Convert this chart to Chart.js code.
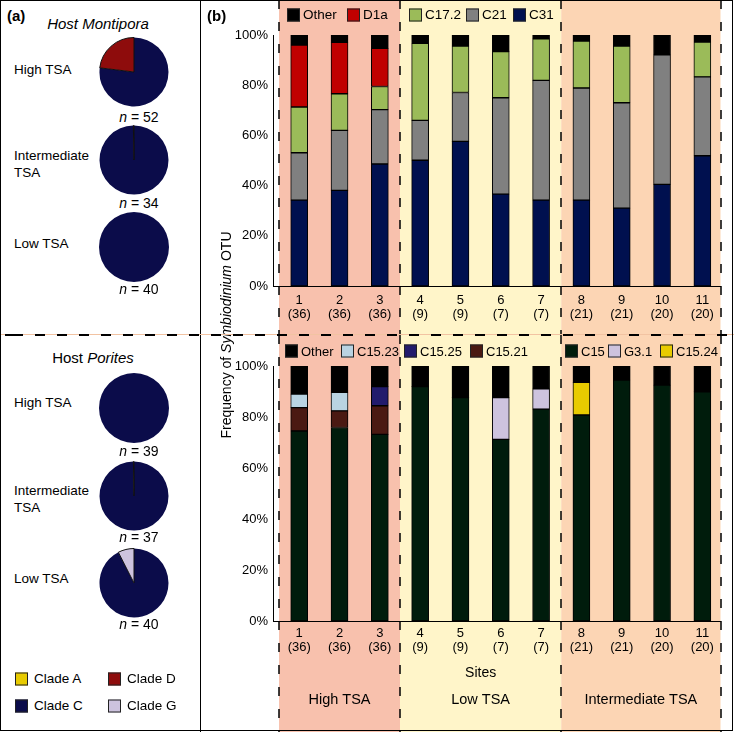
<!DOCTYPE html>
<html>
<head>
<meta charset="utf-8">
<script src="https://cdn.jsdelivr.net/npm/chart.js@4.4.1/dist/chart.umd.min.js"></script>
<style>
html,body{margin:0;padding:0;background:#fff;}
body{position:relative;width:734px;height:732px;overflow:hidden;font-family:"Liberation Sans",Arial,Helvetica,sans-serif;color:#000;}
.t{position:absolute;white-space:nowrap;line-height:1;z-index:5;}
.c{transform:translate(-50%,-50%);}
.l{transform:translateY(-50%);}
canvas{position:absolute;display:block;}
.box{position:absolute;width:11px;height:11px;border:1px solid #222;transform:translateY(-50%);z-index:5;}
#frame{position:absolute;left:0;top:0;width:731px;height:729px;border:1px solid #000;z-index:20;pointer-events:none;}
#sep{position:absolute;left:200px;top:0;width:1px;height:732px;background:#000;z-index:10;}
#hdash{position:absolute;left:0;top:334px;width:734px;height:2px;z-index:12;
  background:repeating-linear-gradient(to right,#000 0 10px,transparent 10px 22px);background-position:13px 0;}
#hline{position:absolute;left:0;top:334px;width:734px;height:1px;background:#f2c3a2;z-index:11;}
</style>
</head>
<body>
<div id="frame"></div>
<div id="sep"></div>
<div id="hline"></div>
<div id="hdash"></div>

<canvas id="pie0" width="70" height="70"></canvas>
<canvas id="pie1" width="70" height="70"></canvas>
<canvas id="pie2" width="70" height="70"></canvas>
<canvas id="pie3" width="70" height="70"></canvas>
<canvas id="pie4" width="70" height="70"></canvas>
<canvas id="pie5" width="70" height="70"></canvas>

<canvas id="topChart" width="534" height="335" style="left:200px;top:0px;"></canvas>
<canvas id="botChart" width="534" height="397" style="left:200px;top:335px;"></canvas>

<div class="t c" style="left:226px;top:335px;font-size:14px;transform:translate(-50%,-50%) rotate(-90deg);">Frequency of <i>Symbiodinium</i> OTU</div>

<script>
// ---------------- DATA ----------------
const sites = [1, 2, 3, 4, 5, 6, 7, 8, 9, 10, 11];
const sampleSizes = [36, 36, 36, 9, 9, 7, 7, 21, 21, 20, 20];

// Montipora OTU frequencies (%), stacked bottom -> top
const montC31   = [34.2, 38.1, 48.6, 50.1, 57.6, 36.6, 34.2, 34.2, 31.0, 40.5, 51.9];
const montC21   = [18.9, 23.9, 21.7, 15.9, 19.5, 38.4, 47.7, 44.7, 42.0, 51.6, 31.4];
const montC172  = [18.2, 14.6,  9.2, 30.7, 18.5, 18.4, 16.6, 18.7, 22.6, null, 13.9];
const montD1a   = [24.7, 20.5, 15.2, null, null, null, null, null, null, null, null];
const montOther = [ 4.0,  2.9,  5.3,  3.3,  4.4,  6.6,  1.5,  2.4,  4.4,  7.9,  2.8];

// Porites OTU frequencies (%), stacked bottom -> top
const porC15    = [74.5, 75.9, 73.2, 91.9, 87.6, 71.2, 83.1, 80.8, 94.5, 92.5, 89.9];
const porC1521  = [ 9.2,  6.5, 11.2, null, null, null, null, null, null, null, null];
const porC1523  = [ 5.3,  7.3, null, null, null, null, null, null, null, null, null];
const porC1525  = [null, null,  7.5, null, null, null, null, null, null, null, null];
const porG31    = [null, null, null, null, null, 16.4,  7.9, null, null, null, null];
const porC1524  = [null, null, null, null, null, null, null, 12.8, null, null, null];
const porOther  = [11.0, 10.3,  8.1,  8.1, 12.4, 12.4,  9.0,  6.4,  5.5,  7.5, 10.1];

const tsaGroups = ['High TSA', 'Low TSA', 'Intermediate TSA'];
const groupEdges = [0.5, 3.5, 7.5, 11.45];
const yTicks = [0, 20, 40, 60, 80, 100];

// Pie data: clade counts, clockwise from 12 o'clock: C, D, G, A
const cladeOrder = ['Clade C', 'Clade D', 'Clade G', 'Clade A'];
const pieMontHigh = [40, 12, 0, 0];
const pieMontInt  = [34, 0.1, 0, 0];
const pieMontLow  = [40, 0, 0, 0];
const pieporHigh  = [39, 0, 0, 0];
const pieporInt   = [37, 0, 0, 0.1];
const pieporLow   = [37, 0, 3, 0];
const pieN = [52, 34, 40, 39, 37, 40];

// ---------------- STYLES ----------------
const groupColors = ['#f8c1ad', '#fff5c9', '#fcd5b4'];
const cladeColors = {'Clade C': '#0b0c4a', 'Clade D': '#8e0c0c', 'Clade G': '#cdc3de', 'Clade A': '#e8cb00'};
const FONT = '"Liberation Sans", Arial, Helvetica, sans-serif';
Chart.defaults.font.family = FONT;
Chart.defaults.color = '#000';

const montSeries = [
  {name: 'C31', data: montC31, color: '#00104f'},
  {name: 'C21', data: montC21, color: '#808080'},
  {name: 'C17.2', data: montC172, color: '#9bbb59'},
  {name: 'D1a', data: montD1a, color: '#c00000'},
  {name: 'Other', data: montOther, color: '#000000'}
];
const porSeries = [
  {name: 'C15', data: porC15, color: '#001c0c'},
  {name: 'C15.21', data: porC1521, color: '#4a1912'},
  {name: 'C15.23', data: porC1523, color: '#b9d3e2'},
  {name: 'C15.25', data: porC1525, color: '#221b6c'},
  {name: 'G3.1', data: porG31, color: '#cdc3de'},
  {name: 'C15.24', data: porC1524, color: '#e8cb00'},
  {name: 'Other', data: porOther, color: '#000000'}
];
const topLegendOrder = ['Other', 'D1a', 'C17.2', 'C21', 'C31'];
const topLegendX = [287, 347, 409, 466, 513];
const botLegendOrder = ['Other', 'C15.23', 'C15.25', 'C15.21', 'C15', 'G3.1', 'C15.24'];
const botLegendX = [285, 341, 404, 470, 565, 608, 660];

// ---------------- HTML TEXT ----------------
function addText(html, x, y, size, cls, extra) {
  const d = document.createElement('div');
  d.className = 't ' + cls;
  d.style.left = x + 'px'; d.style.top = y + 'px'; d.style.fontSize = size + 'px';
  if (extra) d.style.cssText += extra;
  d.innerHTML = html;
  document.body.appendChild(d);
  return d;
}
function addBox(x, y, color) {
  const b = document.createElement('div');
  b.className = 'box';
  b.style.left = x + 'px'; b.style.top = y + 'px'; b.style.background = color;
  document.body.appendChild(b);
}

addText('(a)', 7, 15, 15, 'l', 'font-weight:bold;');
addText('(b)', 207, 15, 15, 'l', 'font-weight:bold;');
addText('<i>Host Montipora</i>', 98, 23, 15, 'c');
addText('Host <i>Porites</i>', 93, 357, 15, 'c');

const rowLabels = ['High TSA', 'Intermediate<br>TSA', 'Low TSA', 'High TSA', 'Intermediate<br>TSA', 'Low TSA'];
const rowLabelY = [70, 164, 244, 403, 499, 579];
const pieCenterY = [72, 160, 247, 407.5, 496, 582.5];
const nLabelY = [117, 203, 289, 451, 537, 624];
rowLabels.forEach((s, i) => {
  addText(s, 14, rowLabelY[i], 13.5, 'l', 'line-height:16.5px;');
  addText('<i>n</i> = ' + pieN[i], 139, nLabelY[i], 14, 'c');
});

// clade legend (panel a)
const cladeLegend = ['Clade A', 'Clade D', 'Clade C', 'Clade G'];
const cladeLegX = [15, 108, 15, 108];
const cladeLegY = [679, 679, 706, 706];
cladeLegend.forEach((s, i) => {
  addBox(cladeLegX[i], cladeLegY[i], cladeColors[s]);
  addText(s, cladeLegX[i] + 19, cladeLegY[i], 13.5, 'l');
});

// bar legends
function buildLegend(order, xs, y, series, size) {
  order.forEach((name, i) => {
    const s = series.find(q => q.name === name);
    addBox(xs[i], y, s.color);
    addText(name, xs[i] + 16, y, size, 'l');
  });
}
buildLegend(topLegendOrder, topLegendX, 15, montSeries, 13.5);
buildLegend(botLegendOrder, botLegendX, 351, porSeries, 13);

// ---------------- PIES ----------------
const pieData = [pieMontHigh, pieMontInt, pieMontLow, pieporHigh, pieporInt, pieporLow];
pieData.forEach((vals, i) => {
  const cv = document.getElementById('pie' + i);
  cv.style.left = (134 - 35) + 'px';
  cv.style.top = (pieCenterY[i] - 35) + 'px';
  const total = vals.reduce((a, b) => a + b, 0);
  new Chart(cv, {
    type: 'pie',
    data: {
      labels: cladeOrder,
      datasets: [{
        data: vals,
        backgroundColor: cladeOrder.map(c => cladeColors[c]),
        borderColor: '#111',
        borderWidth: (ctx) => { const v = ctx.raw; return (v > 0 && v / total < 0.5) ? 1 : 0; }
      }]
    },
    options: {
      responsive: false, animation: false, devicePixelRatio: 1,
      layout: {padding: 0},
      plugins: {legend: {display: false}, tooltip: {enabled: false}}
    }
  });
});

// ---------------- BARS ----------------
const regionPlugin = {
  id: 'regions',
  beforeDraw(chart) {
    const {ctx, scales: {x}} = chart;
    ctx.save();
    tsaGroups.forEach((g, i) => {
      const x0 = x.getPixelForValue(groupEdges[i]);
      const x1 = x.getPixelForValue(groupEdges[i + 1]);
      ctx.fillStyle = groupColors[i];
      ctx.fillRect(x0, 0, x1 - x0, chart.height);
    });
    ctx.restore();
  },
  beforeDatasetsDraw(chart) {
    const {ctx, scales: {x}} = chart;
    ctx.save();
    ctx.strokeStyle = '#000';
    ctx.lineWidth = 1.5;
    ctx.setLineDash([9, 13]);
    groupEdges.forEach(v => {
      const px = Math.round(x.getPixelForValue(v));
      ctx.beginPath();
      ctx.moveTo(px, 0);
      ctx.lineTo(px, chart.height);
      ctx.stroke();
    });
    ctx.restore();
  },
  afterDraw(chart, args, opts) {
    if (!opts.groupLabels) return;
    const {ctx, scales: {x}, chartArea} = chart;
    ctx.save();
    ctx.fillStyle = '#000';
    ctx.textAlign = 'center';
    ctx.textBaseline = 'middle';
    ctx.font = '14px ' + FONT;
    const mid = (a, b) => (x.getPixelForValue(a) + x.getPixelForValue(b)) / 2;
    ctx.fillText('Sites', mid(groupEdges[1], groupEdges[2]), chartArea.bottom + 52);
    ctx.font = '14.5px ' + FONT;
    tsaGroups.forEach((g, i) => {
      ctx.fillText(g, mid(groupEdges[i], groupEdges[i + 1]), chartArea.bottom + 79);
    });
    ctx.restore();
  }
};

function makeBar(id, series, padTop, xHeight, tickPad, groupLabels) {
  new Chart(document.getElementById(id), {
    type: 'bar',
    data: {
      datasets: series.map(s => ({
        label: s.name,
        data: sites.map((site, i) => ({x: site, y: s.data[i]})),
        backgroundColor: s.color,
        borderColor: '#000',
        borderWidth: 1,
        borderSkipped: false,
        barThickness: 17
      }))
    },
    options: {
      responsive: false, animation: false, devicePixelRatio: 1,
      layout: {padding: {top: padTop, right: 13.5, left: 0, bottom: 0}},
      plugins: {legend: {display: false}, tooltip: {enabled: false}, regions: {groupLabels}},
      scales: {
        x: {
          type: 'linear', stacked: true, min: 0.35, max: 11.45, offset: false,
          grid: {display: false, drawTicks: false},
          border: {display: true, color: '#000', width: 1},
          afterBuildTicks: (s) => { s.ticks = sites.map(v => ({value: v})); },
          afterFit: (s) => { s.height = xHeight; },
          ticks: {
            autoSkip: false, maxRotation: 0, padding: tickPad, color: '#000',
            font: {size: 13, lineHeight: 1.1},
            callback: (v) => {
              const i = sites.indexOf(v);
              return i < 0 ? '' : [String(sites[i]), '(' + sampleSizes[i] + ')'];
            }
          }
        },
        y: {
          stacked: true, min: 0, max: 100,
          grid: {display: false, drawTicks: false},
          border: {display: true, color: '#000', width: 1},
          afterBuildTicks: (s) => { s.ticks = yTicks.map(v => ({value: v})); },
          afterFit: (s) => { s.width = 73; },
          ticks: {padding: 5, color: '#000', font: {size: 13}, callback: v => v + '%'}
        }
      }
    },
    plugins: [regionPlugin]
  });
}

makeBar('topChart', montSeries, 35, 49, 7, false);
makeBar('botChart', porSeries, 31, 111, 5, true);
</script>
</body>
</html>
